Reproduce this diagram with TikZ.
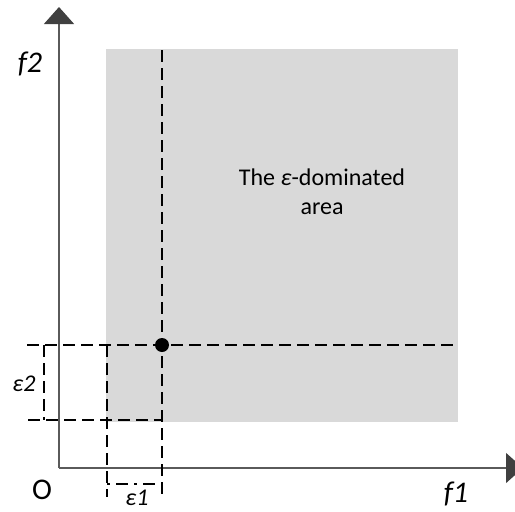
\documentclass[tikz,border=0pt]{standalone}
\usepackage{fontspec}
\setmainfont{Carlito}
\usetikzlibrary{arrows.meta}
\definecolor{areagray}{HTML}{D9D9D9}
\definecolor{axisgray}{HTML}{5A5A5A}
\definecolor{tipgray}{HTML}{404040}
\begin{document}
\begin{tikzpicture}[x=1pt,y=-1pt,
  axisline/.style={draw=axisgray,line width=1.3pt,-{Triangle[width=30pt,length=17pt,fill=tipgray,color=tipgray]}},
  dashline/.style={draw=black,line width=1.5pt,dash pattern=on 12pt off 6pt},
  lbl/.style={font=\fontsize{24}{28}\selectfont\itshape,inner sep=0pt},
  flbl/.style={font=\fontsize{30}{34}\selectfont\itshape,inner sep=0pt},
  olbl/.style={font=\fontsize{30}{34}\selectfont,inner sep=0pt},
  txt/.style={font=\fontsize{24}{29}\selectfont,align=center,inner sep=0pt}]
\useasboundingbox (0,0) rectangle (515,512);
\clip (0,0) rectangle (515,512);
\fill[areagray] (106,49) rectangle (458,422);
% coordinates
\coordinate (O) at (59,468);
\coordinate (ytip) at (59,7);
\coordinate (xtip) at (523,468);
\coordinate (vtop) at (162,50);
\coordinate (vbot) at (162,497);
\coordinate (hleft) at (27,345);
\coordinate (hright) at (458,345);
\coordinate (lleft) at (28,420);
\coordinate (lright) at (162,420);
\coordinate (v2top) at (107,345);
\coordinate (v2bot) at (107,497);
\coordinate (e2top) at (44,345);
\coordinate (e2bot) at (44,420);
\coordinate (e1l) at (107,484);
\coordinate (e1r) at (162,484);
% axes
\draw[axisline] (O) -- (ytip);
\draw[axisline] (O) -- (xtip);
% dashed lines
\draw[dashline] (vtop) -- (vbot);
\draw[dashline] (hleft) -- (hright);
\draw[dashline] (lleft) -- (lright);
\draw[dashline] (v2top) -- (v2bot);
\draw[dashline] (e2top) -- (e2bot);
\draw[dashline,dash pattern=on 3pt off 6pt on 12pt off 6pt] (e1l) -- (e1r);
% point
\node[circle,fill=black,inner sep=0pt,minimum size=14pt] (pt) at (162,345) {};
% labels
\node[flbl] (f2) at (30,64) {f2};
\node[flbl] (f1) at (456,494) {f1};
\node[olbl] (o) at (42,490) {O};
\node[lbl] (e2) at (24,384) {ε2};
\node[lbl] (e1) at (137,498) {ε1};
\node[txt] (area) at (322,192) {The \textit{ε}-dominated\\area};
\end{tikzpicture}
\end{document}
